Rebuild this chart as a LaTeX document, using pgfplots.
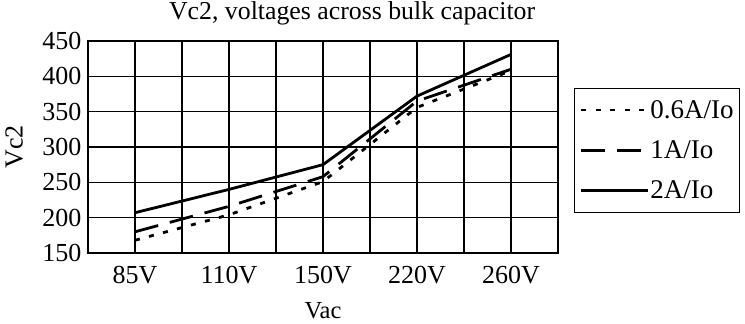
\documentclass[border=0pt]{standalone}
\usepackage{pgfplots}
\pgfplotsset{compat=1.18}
\usepackage{fontspec}
\setmainfont{Liberation Serif}
\begin{document}
\begin{tikzpicture}[x=1pt,y=1pt]
\begin{axis}[
  at={(88pt,71pt)}, anchor=south west,
  scale only axis, width=470pt, height=212pt,
  xmin=-0.5, xmax=4.5, ymin=150, ymax=450,
  xtick={0,1,2,3,4}, xticklabels={85V,110V,150V,220V,260V},
  minor xtick={-0.5,0.5,1.5,2.5,3.5,4.5},
  ytick={150,200,...,450},
  grid=both,
  major grid style={black, line width=1.3pt},
  minor grid style={black, line width=1.3pt},
  axis line style={black, line width=2.6pt},
  major tick length=0pt, minor tick length=0pt,
  tick style={draw=none},
  /pgf/number format/assume math mode=true,
  ticklabel style={font=\fontsize{26}{30}\selectfont},
  yticklabel style={xshift=-3pt},
  xticklabel style={yshift=-10pt},
  title={Vc2, voltages across bulk capacitor},
  title style={font=\fontsize{25.8}{28}\selectfont, at={(axis description cs:0.562,1.104)}, anchor=center},
  xlabel={Vac},
  xlabel style={font=\fontsize{24.5}{28}\selectfont, inner sep=0pt, at={(axis description cs:0.5,-0.272)}, anchor=center},
  ylabel={Vc2},
  ylabel style={font=\fontsize{26}{28}\selectfont, at={(axis description cs:-0.157,0.5)}, anchor=center},
  legend style={at={(axis description cs:1.034,0.78)}, anchor=north west,
    draw=black, line width=1.4pt, font=\fontsize{27}{30}\selectfont,
    inner xsep=5pt, inner ysep=11pt, row sep=19pt,
    nodes={inner xsep=1pt, inner ysep=1pt}},
  legend cell align=left,
  legend image code/.code={\draw[#1] (0pt,0pt) -- (67pt,0pt);},
]
\addplot[black, line width=2.8pt, dash pattern=on 5pt off 9.5pt] coordinates {(0,168) (1,204) (2,251) (3,356) (4,408)};
\addlegendentry{0.6A/Io}
\addplot[black, line width=2.8pt, dash pattern=on 24pt off 12pt] coordinates {(0,180) (1,216) (2,258) (3,365) (4,410)};
\addlegendentry{1A/Io}
\addplot[black, line width=2.8pt] coordinates {(0,207) (1,240) (2,275) (3,372) (4,431)};
\addlegendentry{2A/Io}
\end{axis}
\pgfresetboundingbox
\path (0,0) rectangle (745,324);
\end{tikzpicture}
\end{document}
